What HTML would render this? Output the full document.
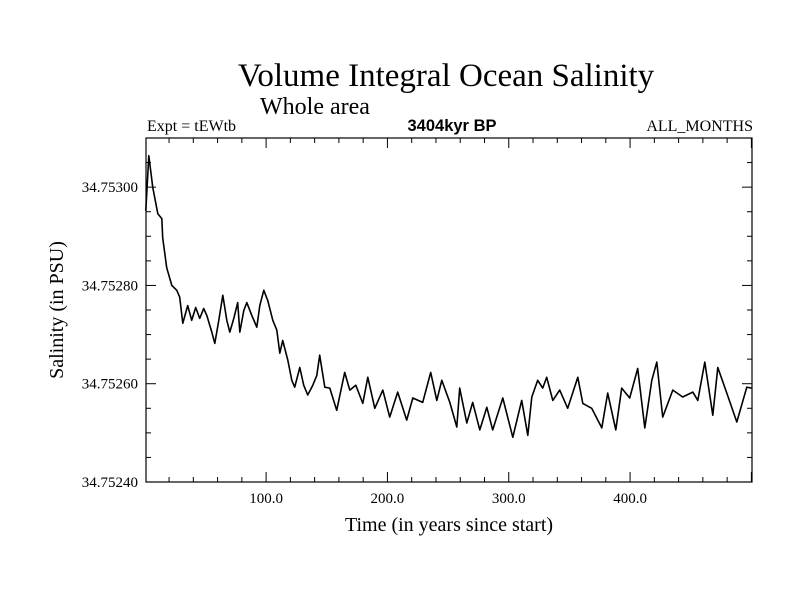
<!DOCTYPE html>
<html><head><meta charset="utf-8"><style>
body{margin:0;background:#fff;}
svg{display:block;font-family:"Liberation Serif",serif;}
</style></head><body>
<svg id="chart" width="800" height="600">
<text x="446" y="86" font-size="33" text-anchor="middle">Volume Integral Ocean Salinity</text>
<text x="315" y="114" font-size="24" text-anchor="middle">Whole area</text>
<text x="452" y="131" font-size="16.5" font-family="Liberation Sans, sans-serif" font-weight="600" text-anchor="middle">3404kyr BP</text>
<text x="147" y="131" font-size="16">Expt = tEWtb</text>
<text x="753" y="131" font-size="16" text-anchor="end">ALL_MONTHS</text>
<text x="449" y="531" font-size="20" text-anchor="middle">Time (in years since start)</text>
<text transform="translate(63,310) rotate(-90)" font-size="20" text-anchor="middle">Salinity (in PSU)</text>
<g id="ticks"></g>
<path id="series" fill="none" stroke="#000" stroke-width="1.6" stroke-linejoin="round"></path>
<rect x="146" y="138" width="606" height="344" fill="none" stroke="#000" stroke-width="1.2"></rect>
</svg>
<script>
const years=[0.8,3.3,6.6,10.7,14.0,14.8,18.1,22.3,26.4,28.8,31.3,35.4,38.7,42.0,45.3,48.6,51.1,55.2,57.7,61.0,64.3,67.6,70.1,73.4,76.6,78.3,81.6,84.1,88.2,92.3,94.8,98.1,101.4,105.5,108.8,111.3,113.7,117.9,121.2,123.6,127.8,131.0,134.3,138.5,141.8,144.2,148.4,152.5,158.2,164.8,169.0,173.9,179.7,183.8,189.6,196.2,201.9,208.5,215.9,220.9,229.1,235.7,240.7,244.8,251.4,257.2,259.6,265.4,270.3,276.1,281.9,286.8,295.1,303.3,310.7,315.7,319.0,323.9,328.0,331.3,336.3,342.0,348.6,356.9,361.0,368.4,376.7,381.6,388.2,393.1,399.7,406.3,412.1,417.9,422.0,426.9,435.2,443.4,451.7,455.8,461.6,468.2,472.3,479.7,488.0,496.2,500.3];
// salinity in units of 1e-5 above 34.75200
const salinity=[95.2,106.4,99.9,94.6,93.6,89.7,83.6,80.0,79.0,77.6,72.3,75.9,72.9,75.5,73.3,75.3,73.9,70.5,68.2,72.9,78.0,72.9,70.5,73.3,76.5,70.5,74.9,76.5,73.9,71.5,75.9,79.0,76.9,72.9,70.9,66.2,68.8,64.8,60.7,59.3,63.3,59.7,57.7,59.7,61.7,65.8,59.3,59.1,54.6,62.3,58.7,59.7,56.0,61.3,55.0,58.7,53.2,58.3,52.6,57.1,56.2,62.3,56.6,60.7,56.2,51.2,59.1,52.0,56.2,50.6,55.2,50.6,57.1,49.1,56.6,49.5,57.3,60.7,59.1,61.3,56.6,58.7,55.0,61.3,56.0,55.0,51.0,58.1,50.6,59.1,57.1,63.1,51.0,60.7,64.4,53.2,58.7,57.3,58.3,56.6,64.4,53.6,63.3,58.1,52.2,59.3,59.1];
const xTickVals=[100,200,300,400];
const xTickLabels=["100.0","200.0","300.0","400.0"];
const yTickVals=[40,60,80,100];
const yTickLabels=["34.75240","34.75260","34.75280","34.75300"];
const X0=146,X1=752,Y0=482,Y1=138,xMin=1,xMax=500.5,yMin=40,yMax=110;
const sx=v=>X0+(v-xMin)*(X1-X0)/(xMax-xMin);
const sy=v=>Y0-(v-yMin)*(Y0-Y1)/(yMax-yMin);
const NS="http://www.w3.org/2000/svg";
let d="";years.forEach((t,i)=>{d+=(i?"L":"M")+sx(t).toFixed(1)+","+sy(salinity[i]).toFixed(1);});
document.getElementById("series").setAttribute("d",d);
const g=document.getElementById("ticks");
function line(x1,y1,x2,y2,w){const l=document.createElementNS(NS,"line");l.setAttribute("x1",x1);l.setAttribute("y1",y1);l.setAttribute("x2",x2);l.setAttribute("y2",y2);l.setAttribute("stroke","#000");l.setAttribute("stroke-width",w);


g.appendChild(l);}
for(let v=20;v<=500;v+=20){const x=sx(v);const maj=v%100===0;const L=maj?10:5;line(x,Y0,x,Y0-L,1);line(x,Y1,x,Y1+L,1);}
for(let v=45;v<110;v+=5){const y=sy(v);const maj=v%20===0;const L=maj?10:5;line(X0,y,X0+L,y,1);line(X1,y,X1-L,y,1);}
xTickVals.forEach((v,i)=>{const t=document.createElementNS(NS,"text");t.setAttribute("x",sx(v));t.setAttribute("y",503);t.setAttribute("font-size","15");t.setAttribute("text-anchor","middle");t.textContent=xTickLabels[i];


g.appendChild(t);});
yTickVals.forEach((v,i)=>{const t=document.createElementNS(NS,"text");t.setAttribute("x",138);t.setAttribute("y",sy(v)+5);t.setAttribute("font-size","15");t.setAttribute("text-anchor","end");t.textContent=yTickLabels[i];


g.appendChild(t);});
</script>
</body></html>
